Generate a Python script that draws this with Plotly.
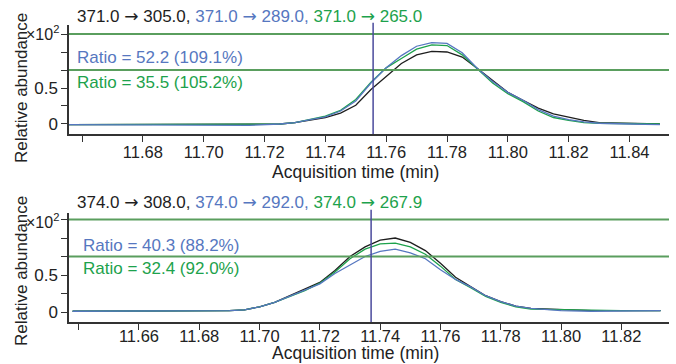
import plotly.graph_objects as go
from plotly.subplots import make_subplots

# ---------------- data ----------------
top_title = ["371.0 → 305.0", "371.0 → 289.0", "371.0 → 265.0"]
bottom_title = ["374.0 → 308.0", "374.0 → 292.0", "374.0 → 267.9"]
top_ratios = ["Ratio = 52.2 (109.1%)", "Ratio = 35.5 (105.2%)"]
bottom_ratios = ["Ratio = 40.3 (88.2%)", "Ratio = 32.4 (92.0%)"]

t_top = [11.6557, 11.67, 11.685, 11.70, 11.715, 11.725, 11.73, 11.735, 11.74, 11.745,
         11.75, 11.755, 11.76, 11.765, 11.77, 11.775, 11.78, 11.785, 11.79, 11.795,
         11.80, 11.805, 11.81, 11.815, 11.82, 11.825, 11.83, 11.84, 11.85]
top_black = [-0.01, -0.01, -0.01, -0.01, -0.01, 0.0, 0.02, 0.05, 0.09, 0.15,
             0.26, 0.48, 0.66, 0.84, 0.96, 1.01, 1.00, 0.93, 0.77, 0.61,
             0.44, 0.33, 0.22, 0.14, 0.09, 0.05, 0.02, 0.01, 0.0]
top_blue = [-0.01, -0.01, -0.01, -0.02, -0.02, 0.0, 0.02, 0.06, 0.10, 0.18,
            0.32, 0.57, 0.78, 0.95, 1.08, 1.13, 1.12, 0.99, 0.77, 0.59,
            0.44, 0.33, 0.20, 0.11, 0.06, 0.03, 0.01, 0.0, -0.01]
top_green = [-0.01, -0.01, -0.01, -0.01, -0.01, 0.0, 0.02, 0.06, 0.11, 0.19,
             0.34, 0.58, 0.78, 0.91, 1.04, 1.10, 1.09, 0.96, 0.77, 0.57,
             0.42, 0.31, 0.18, 0.09, 0.05, 0.02, 0.01, 0.0, 0.0]

t_bot = [11.638, 11.65, 11.66, 11.67, 11.68, 11.69, 11.695, 11.70, 11.705, 11.71,
         11.715, 11.72, 11.725, 11.73, 11.735, 11.74, 11.745, 11.75, 11.755, 11.76,
         11.765, 11.77, 11.775, 11.78, 11.785, 11.79, 11.80, 11.81, 11.82, 11.833]
bot_black = [0.01, 0.01, 0.01, 0.01, 0.02, 0.02, 0.03, 0.07, 0.13, 0.22,
             0.30, 0.40, 0.56, 0.75, 0.88, 0.97, 1.00, 0.94, 0.83, 0.66,
             0.47, 0.35, 0.22, 0.14, 0.08, 0.05, 0.03, 0.02, 0.02, 0.02]
bot_blue = [0.01, 0.01, 0.01, 0.01, 0.02, 0.02, 0.03, 0.07, 0.13, 0.21,
            0.29, 0.38, 0.52, 0.64, 0.75, 0.82, 0.85, 0.80, 0.72, 0.57,
            0.44, 0.34, 0.22, 0.14, 0.08, 0.05, 0.02, 0.01, 0.01, 0.02]
bot_green = [0.01, 0.01, 0.01, 0.01, 0.02, 0.02, 0.03, 0.07, 0.13, 0.21,
             0.29, 0.39, 0.54, 0.72, 0.85, 0.92, 0.93, 0.88, 0.78, 0.62,
             0.44, 0.33, 0.21, 0.13, 0.07, 0.04, 0.03, 0.02, 0.02, 0.02]

top_rt = 11.7557
bot_rt = 11.737
limit_levels = [0.75, 1.25]

x_top_ticks = [11.66, 11.68, 11.70, 11.72, 11.74, 11.76, 11.78, 11.80, 11.82, 11.84]
x_top_text = ["", "11.68", "11.70", "11.72", "11.74", "11.76", "11.78", "11.80", "11.82", "11.84"]
x_bot_ticks = [11.64, 11.66, 11.68, 11.70, 11.72, 11.74, 11.76, 11.78, 11.80, 11.82]
x_bot_text = ["", "11.66", "11.68", "11.70", "11.72", "11.74", "11.76", "11.78", "11.80", "11.82"]
y_ticks = [0, 0.25, 0.5, 0.75, 1.0, 1.25]
y_text = ["0", "", "0.5", "", "", ""]

# ---------------- style ----------------
FONT = "Liberation Sans, Arial, sans-serif"
ARROW = '<span style="font-family:DejaVu Sans">→</span>'
BLACK = "#1e1e1e"
BLUE = "#5677c0"
GREEN = "#1da24c"
LIMIT = "#5a9e5e"
RT = "#4a4a9c"
W, H = 676, 364

def py(px):
    return 1 - px / H

fig = make_subplots(rows=2, cols=1)

for row, t, series in [(1, t_top, (top_black, top_green, top_blue)),
                       (2, t_bot, (bot_black, bot_green, bot_blue))]:
    for vals, col in zip(series, (BLACK, GREEN, BLUE)):
        fig.add_trace(go.Scatter(x=t, y=vals, mode="lines",
                                 line=dict(color=col, width=1.3),
                                 showlegend=False, hoverinfo="skip"),
                      row=row, col=1)

axis_common = dict(showline=True, linecolor="#333", linewidth=1.5, ticks="outside",
                   ticklen=6, tickcolor="#333", tickwidth=1.3, showgrid=False,
                   zeroline=False)
xfont = dict(family=FONT, size=16.5, color="#222")
yfont = dict(family=FONT, size=17, color="#222")

fig.update_layout(
    width=W, height=H, margin=dict(l=69, r=7, t=0, b=0),
    plot_bgcolor="white", paper_bgcolor="white",
    xaxis=dict(domain=[0, 1], range=[11.6557, 11.853], tickmode="array",
               tickvals=x_top_ticks, ticktext=x_top_text, ticklabelstandoff=-4,
               tickfont=xfont, **axis_common),
    yaxis=dict(domain=[py(134), py(25)], range=[-0.139, 1.375], tickmode="array",
               tickvals=y_ticks, ticktext=y_text, tickfont=yfont, **axis_common),
    xaxis2=dict(domain=[0, 1], range=[11.6368, 11.8358], tickmode="array",
                tickvals=x_bot_ticks, ticktext=x_bot_text, ticklabelstandoff=-8,
                tickfont=xfont, **axis_common),
    yaxis2=dict(domain=[py(322), py(213)], range=[-0.135, 1.338], tickmode="array",
                tickvals=y_ticks, ticktext=y_text, tickfont=yfont, **axis_common),
)

shapes = []
for xr, yr in [("x", "y"), ("x2", "y2")]:
    for lv in limit_levels:
        shapes.append(dict(type="line", xref=xr + " domain", yref=yr, x0=0, x1=1,
                           y0=lv, y1=lv, line=dict(color=LIMIT, width=2)))
shapes.append(dict(type="line", xref="x", yref="y domain", x0=top_rt, x1=top_rt,
                   y0=0, y1=1.02, line=dict(color=RT, width=1.5)))
shapes.append(dict(type="line", xref="x2", yref="y2 domain", x0=bot_rt, x1=bot_rt,
                   y0=0, y1=1.03, line=dict(color=RT, width=1.5)))
fig.update_layout(shapes=shapes)

def ann(text, xpx, ypx, size=17, color="#222", xanchor="left", angle=0):
    fig.add_annotation(text=text, xref="paper", yref="paper",
                       x=(xpx - 69) / (W - 76), y=py(ypx), xanchor=xanchor,
                       yanchor="middle", showarrow=False, textangle=angle,
                       font=dict(family=FONT, size=size, color=color))

def title(parts, ypx):
    p = [s.replace("→", ARROW) for s in parts]
    txt = (f'<span style="color:{BLACK}">{p[0]}, </span>'
           f'<span style="color:{BLUE}">{p[1]}, </span>'
           f'<span style="color:{GREEN}">{p[2]}</span>')
    ann(txt, 75, ypx)

title(top_title, 16)
title(bottom_title, 202)
ann(top_ratios[0], 75, 57.5, color=BLUE)
ann(top_ratios[1], 75, 82.5, color=GREEN)
ann(bottom_ratios[0], 81, 245, color=BLUE)
ann(bottom_ratios[1], 81, 268, color=GREEN)
ann("×10<sup>2</sup>", 61, 33, size=16, xanchor="right")
ann("×10<sup>2</sup>", 61, 221, size=16, xanchor="right")
ann("Acquisition time (min)", 355, 172, size=17.5, xanchor="center")
ann("Acquisition time (min)", 355, 353, size=17.5, xanchor="center")
ann("Relative abundance", 21, 88, size=17, xanchor="center", angle=-90)
ann("Relative abundance", 21, 271, size=17, xanchor="center", angle=-90)

fig.write_html("out.html", config={"displayModeBar": False},
               post_script="document.body.style.margin='0';document.body.style.padding='0';")
